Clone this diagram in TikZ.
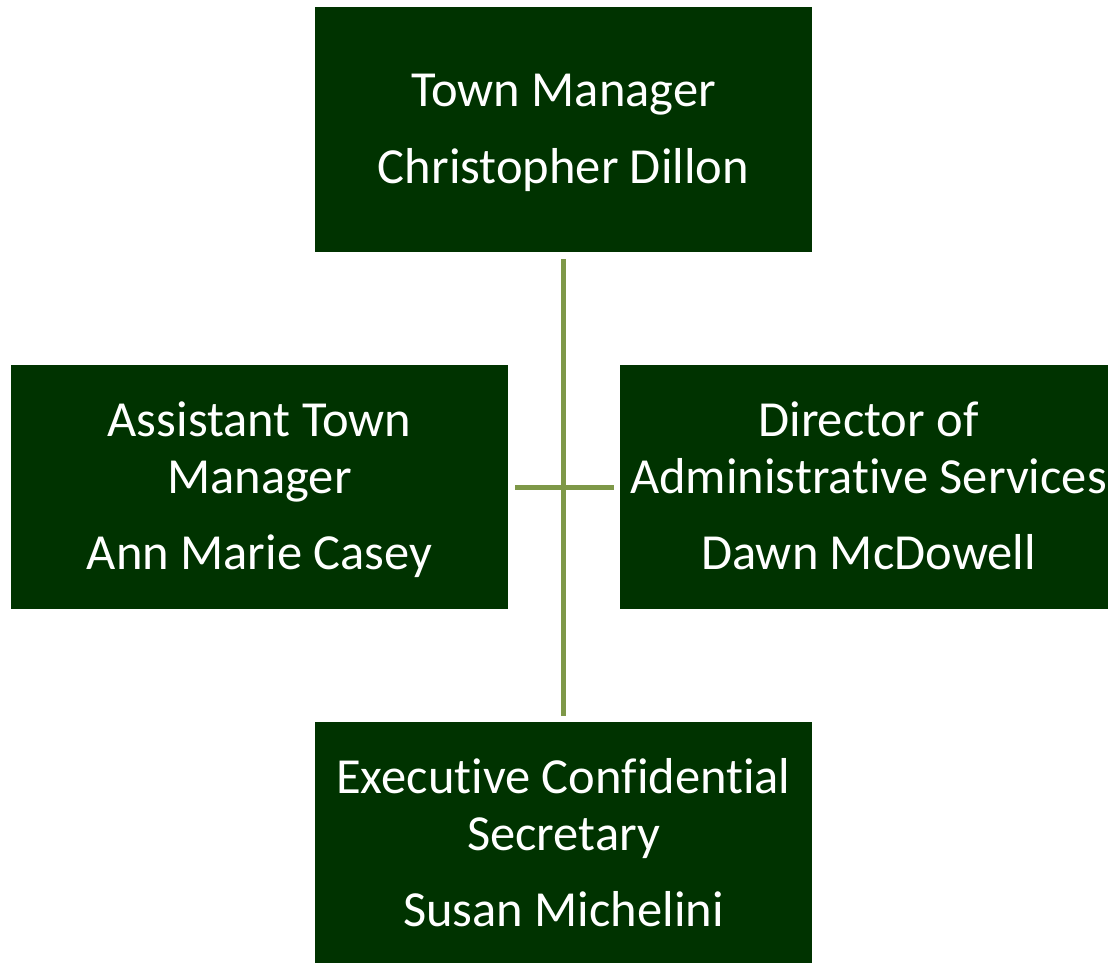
\documentclass[tikz,border=0pt]{standalone}
\usepackage{fontspec}
\setmainfont{Carlito}[Ligatures={NoCommon,NoRequired,NoContextual}]
\usepackage{xcolor}
\definecolor{boxgreen}{RGB}{0,51,0}
\definecolor{linkgreen}{RGB}{126,152,72}
% struts so that every box centres its lines the same way
\newcommand\linetop{\rule{0pt}{40pt}}
\newcommand\linebot{\rule[-8pt]{0pt}{8pt}}
\tikzset{
  every picture/.style={line join=round, line cap=butt},
  post/.style={draw=none, fill=boxgreen, text=white, align=center, inner sep=0pt,
    minimum width=497pt, minimum height=244pt,
    font=\fontsize{50.5pt}{57pt}\selectfont},
  link/.style={draw=linkgreen, line width=5pt},
}

\begin{document}
\begin{tikzpicture}[x=1pt,y=-1pt]
\useasboundingbox (0,0) rectangle (1108,962);
\node[post, minimum height=245pt] (manager) at (563.5,129.5) {\linetop Town Manager\\[20pt]Christopher Dillon\linebot};
\node[post] (assistant) at (259.5,487) {\linetop Assistant Town\\Manager\\[19pt]Ann Marie Casey\linebot};
\node[post] (director) at (868.5,487) {\linetop Director of\\Administrative Services\\[19pt]Dawn McDowell\linebot};
\node[post] (secretary) at (563.5,844) {\linetop Executive Confidential\\Secretary\\[19pt]Susan Michelini\linebot};
\draw[link, shorten <=7pt, shorten >=6pt] (manager.south) -- (secretary.north);
\draw[link, shorten <=7pt, shorten >=6pt] (assistant.east) -- (director.west);
\end{tikzpicture}
\end{document}
